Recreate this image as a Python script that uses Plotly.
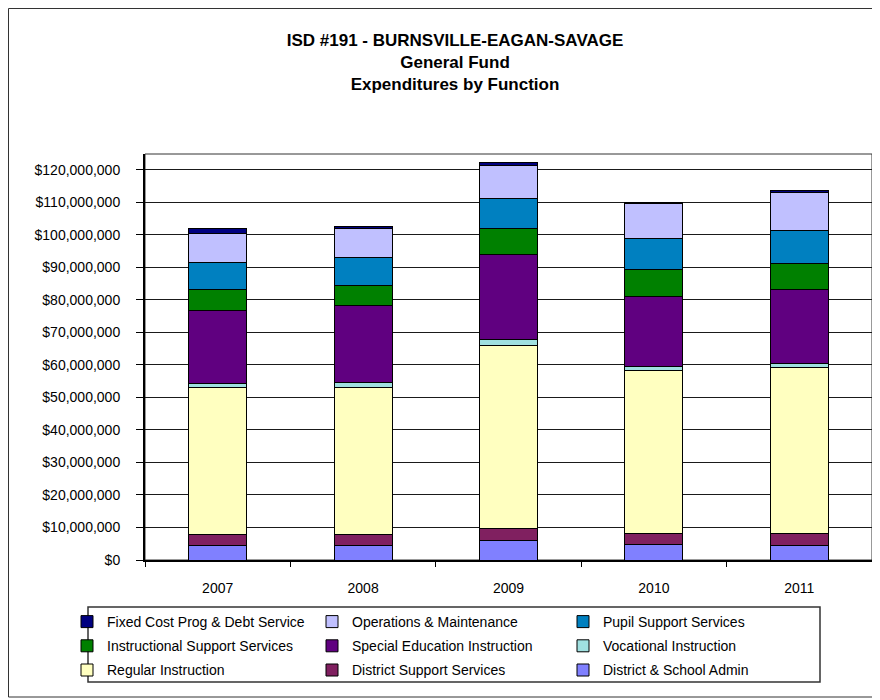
import plotly.graph_objects as go

# chart data (dollars)
years = ['2007', '2008', '2009', '2010', '2011']

admin = [4_500_000, 4_500_000, 6_100_000, 4_900_000, 4_600_000]
district_support = [3_200_000, 3_200_000, 3_600_000, 3_400_000, 3_700_000]
regular = [45_300_000, 45_300_000, 56_100_000, 49_800_000, 50_800_000]
vocational = [1_200_000, 1_500_000, 1_900_000, 1_400_000, 1_300_000]
special_ed = [22_500_000, 23_800_000, 26_100_000, 21_500_000, 22_800_000]
instr_support = [6_400_000, 6_100_000, 8_100_000, 8_200_000, 7_900_000]
pupil_support = [8_400_000, 8_600_000, 9_300_000, 9_600_000, 10_100_000]
operations = [8_900_000, 9_000_000, 10_000_000, 10_900_000, 11_900_000]
fixed_cost = [1_600_000, 400_000, 900_000, 300_000, 400_000]

title_lines = ['ISD #191 - BURNSVILLE-EAGAN-SAVAGE', 'General Fund', 'Expenditures by Function']

# page is 880x700 but the body has an 8px margin, so the figure is a bit smaller
OFF = 8
W, H = 880 - OFF, 700 - OFF
# plot area in page pixels
PL, PR, PT, PB = 145, 872, 154, 560


def px(x):
    return (x - PL) / (PR - PL)


def py(y):
    return (PB - y) / (PB - PT)


FONT = 'Arial, Liberation Sans, sans-serif'

# (name, values, colour, legend column, row)
series = [
    ('District & School Admin', admin, '#8080FF', 'legend3', 3),
    ('District Support Services', district_support, '#802060', 'legend2', 3),
    ('Regular Instruction', regular, '#FFFFC0', 'legend', 3),
    ('Vocational Instruction', vocational, '#A0E0E0', 'legend3', 2),
    ('Special Education Instruction', special_ed, '#600080', 'legend2', 2),
    ('Instructional Support Services', instr_support, '#008000', 'legend', 2),
    ('Pupil Support Services', pupil_support, '#0080C0', 'legend3', 1),
    ('Operations & Maintenance', operations, '#C0C0FF', 'legend2', 1),
    ('Fixed Cost Prog & Debt Service', fixed_cost, '#000080', 'legend', 1),
]

fig = go.Figure()
for name, vals, color, leg, row in series:
    fig.add_trace(go.Bar(
        x=years, y=vals, name=name,
        marker=dict(color=color, line=dict(color='#000000', width=1)),
        legend=leg, legendrank=row, legendgroup=name,
    ))

legend_common = dict(
    orientation='v', bgcolor='rgba(0,0,0,0)', borderwidth=0,
    font=dict(family=FONT, size=14, color='#000000'),
    xanchor='left', yanchor='top', tracegroupgap=3,
    traceorder='grouped', itemclick=False, itemdoubleclick=False,
)
legend_top = py(606)

fig.update_layout(
    width=W, height=H,
    margin=dict(l=PL - OFF, r=880 - PR, t=PT - OFF, b=700 - PB, pad=0),
    paper_bgcolor='white', plot_bgcolor='white',
    barmode='stack', bargap=0.6,
    font=dict(family=FONT, size=14, color='#000000'),
    title=dict(
        text='<br>'.join('<b>%s</b>' % t for t in title_lines),
        x=(455 - OFF) / W, xanchor='center', y=1 - (46 - OFF) / H, yanchor='middle',
        font=dict(family=FONT, size=17, color='#000000'),
    ),
    xaxis=dict(
        type='category', showgrid=False, showline=True, linecolor='#000000', linewidth=2,
        ticks='outside', ticklen=5, tickcolor='#000000', tickson='boundaries',
        ticklabelstandoff=14, tickfont=dict(size=14), fixedrange=True,
    ),
    yaxis=dict(
        range=[0, 124_800_000], dtick=10_000_000, tickprefix='$', tickformat=',d',
        showgrid=True, gridcolor='#1a1a1a', gridwidth=1,
        showline=True, linecolor='#000000', linewidth=2,
        ticks='outside', ticklen=7, tickcolor='#000000', ticklabelstandoff=13,
        tickfont=dict(size=14), zeroline=False, fixedrange=True,
    ),
    legend=dict(legend_common, x=px(67), y=legend_top),
    legend2=dict(legend_common, x=px(312), y=legend_top),
    legend3=dict(legend_common, x=px(563), y=legend_top),
    shapes=[
        # plot area border
        dict(type='rect', xref='paper', yref='paper', x0=0, x1=1, y0=0, y1=1,
             line=dict(color='#333333', width=1), layer='below'),
        # legend box
        dict(type='rect', xref='paper', yref='paper', x0=px(88), x1=px(820), y0=py(682), y1=py(607),
             line=dict(color='#333333', width=1.5)),
        # chart border
        dict(type='rect', xref='paper', yref='paper', x0=px(OFF + 0.5), x1=px(876), y0=py(697), y1=py(OFF + 0.5),
             line=dict(color='#333333', width=1)),
    ],
)

fig.write_html('out.html')
